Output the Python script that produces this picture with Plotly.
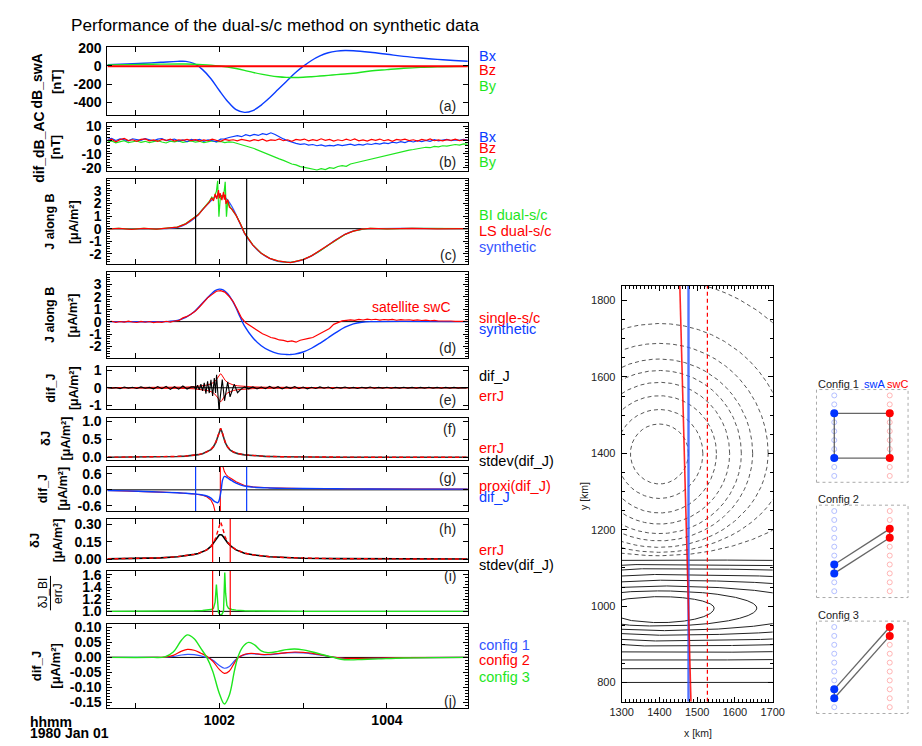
import numpy as np
import plotly.graph_objects as go

W, H = 922, 746
def fx(p): return p / W
def fy(p): return 1 - p / H

FONT = "Liberation Sans, Arial, sans-serif"
BLUE = "#0a3cff"
RED = "#ff0000"
GREEN = "#1ee61e"

# ---------------- data ----------------
# (a) dB_swA [nT]
t_a = [0.665, 0.9, 1.1, 1.3, 1.5, 1.6, 1.7, 1.8, 1.9, 2.0, 2.1, 2.2, 2.3, 2.4, 2.5, 2.6, 2.7,
       2.8, 2.9, 3.0, 3.1, 3.2, 3.3, 3.4, 3.5, 3.6, 3.8, 4.0, 4.2, 4.4, 4.6, 4.8, 4.965]
a_bx = [15, 22, 30, 40, 50, 50, 25, -40, -140, -270, -390, -480, -510, -490, -430, -350, -260,
        -170, -80, -5, 60, 110, 145, 163, 170, 167, 150, 128, 105, 87, 72, 60, 52]
a_by = [12, 15, 18, 20, 21, 21, 19, 15, 9, 0, -12, -28, -48, -70, -90, -106, -118,
        -125, -127, -124, -118, -111, -103, -95, -88, -80, -55, -40, -26, -16, -10, -6, -4]
t_bz = [0.665, 4.965]
a_bz = [-3, -3]

# common sampling grid of the noisy series
t_grid = np.round(np.linspace(0.665, 4.965, 87), 3)

# (b) dif_dB_AC [nT]
b_bx = [0.5, 1.2, -0.3, 0.8, 0.2, -0.6, 0.9, 0.4, -0.2, 1.0,
        0.3, -0.5, 0.6, 1.1, -0.4, 0.2, 0.7, -0.8, 0.1, -1.2,
        0.4, -0.3, 0.5, -0.9, 0.2, -0.5, -1.3, 0.6, 0.9, 1.8,
        2.5, 3.2, 2.4, 3.8, 3.0, 4.1, 3.3, 4.6, 3.9, 5.2,
        4.0, 2.2, 0.8, -0.5, -1.6, -2.4, -3.1, -2.7, -3.6, -3.2,
        -4.1, -3.5, -4.4, -3.8, -4.2, -3.3, -4.0, -3.6, -2.9, -3.8,
        -3.1, -3.6, -2.7, -3.2, -2.4, -2.9, -2.0, -2.5, -1.6, -2.1,
        -1.2, -1.8, -0.7, -1.4, -0.5, -1.1, -0.3, -0.9, 0.2, -0.6,
        -0.2, 0.4, -0.5, 0.1, -0.3, 0.5, -0.1]
b_bz = [-0.5, 0.6, -1.2, 0.3, 1.1, -0.4, 0.2, -0.9, 0.5, 0.8,
        -0.6, 0.1, -1.0, 0.4, -0.3, 0.7, -0.8, 0.2, -0.2, 0.5,
        -0.4, 0.3, -0.7, 0.1, -0.5, 0.6, -0.2, -0.9, 0.4, -0.3,
        0.2, -0.6, 0.5, -0.1, -0.8, 0.3, -0.4, 0.6, -0.7, 0.1,
        -0.3, 0.8, -0.5, 0.2, -0.9, 0.4, -0.1, 0.7, -0.6, 0.3,
        -0.4, 0.9, -0.2, 0.5, -0.7, 0.2, -0.5, 0.6, -0.3, 0.8,
        -0.6, 0.1, -0.8, 0.4, -0.2, 0.7, -0.5, 0.3, -0.9, 0.5,
        -0.1, 0.6, -0.4, 0.2, -0.7, 0.4, -0.3, 0.8, -0.5, 0.1,
        -0.6, 0.3, -0.2, 0.7, -0.4, 0.2, -0.3]
b_by = [-1.5, -0.6, -2.0, -1.1, -0.4, -1.8, -1.2, -0.7, -1.6, -0.9,
        -1.9, -1.0, -0.5, -1.4, -2.1, -0.8, -1.3, -0.6, -1.7, -1.1,
        -0.7, -1.5, -0.9, -1.8, -1.2, -0.6, -1.4, -1.0, -1.9, -1.3,
        -1.6, -2.4, -3.3, -3.9, -5.2, -6.1, -7.4, -8.3, -9.6, -10.8,
        -12.1, -13.5, -14.6, -15.9, -17.2, -17.8, -19.1, -19.6, -20.4, -20.9,
        -21.5, -20.6, -21.2, -19.8, -20.3, -19.0, -18.4, -18.9, -17.2, -16.5,
        -15.8, -15.0, -14.2, -13.6, -12.5, -12.0, -11.2, -10.4, -10.0, -9.1,
        -8.6, -7.9, -7.2, -6.8, -6.1, -5.9, -5.2, -5.5, -4.6, -4.9,
        -4.1, -4.4, -3.7, -3.2, -3.6, -2.8, -3.0]

# (c) J along B
t_syn = [0.665, 1.3, 1.4, 1.5, 1.6, 1.7, 1.8, 1.9, 1.95, 2.0, 2.05, 2.1, 2.15, 2.2, 2.25, 2.3, 2.4,
         2.5, 2.6, 2.7, 2.8, 2.85, 2.9, 3.0, 3.1, 3.2, 3.3, 3.4, 3.5, 3.6, 3.7, 3.8, 4.965]
j_syn = [0, 0, 0.02, 0.1, 0.35, 0.8, 1.5, 2.2, 2.5, 2.62, 2.55, 2.25, 1.75, 1.1, 0.35, -0.35, -1.3,
         -1.95, -2.35, -2.58, -2.65, -2.66, -2.62, -2.45, -2.15, -1.75, -1.3, -0.85, -0.45, -0.18, -0.05, 0, 0]
t_ls = [0.665, 0.8, 0.95, 1.1, 1.25, 1.4, 1.5, 1.6, 1.7, 1.75, 1.8, 1.85, 1.88, 1.91, 1.93, 1.95, 1.97,
        1.99, 2.0, 2.01, 2.03, 2.05, 2.06, 2.07, 2.08, 2.1, 2.12, 2.15, 2.2, 2.25, 2.3, 2.4, 2.5, 2.6,
        2.7, 2.8, 2.85, 2.9, 3.0, 3.1, 3.2, 3.3, 3.4, 3.5, 3.6, 3.7, 3.8, 4.0, 4.3, 4.6, 4.965]
j_ls = [-0.03, 0.02, -0.05, 0.03, -0.04, 0.05, 0.12, 0.38, 0.82, 1.1, 1.5, 1.85, 2.1, 2.45, 2.2, 2.75, 2.35,
        3.05, 2.4, 2.8, 2.25, 2.9, 2.3, 2.7, 1.95, 2.3, 1.7, 1.55, 1.05, 0.4, -0.35, -1.3, -1.95, -2.35,
        -2.55, -2.65, -2.68, -2.6, -2.45, -2.15, -1.75, -1.3, -0.85, -0.45, -0.2, -0.04, 0.03, -0.02, 0.03, -0.02, 0.01]
t_bi = [0.665, 0.8, 0.95, 1.1, 1.25, 1.4, 1.5, 1.6, 1.7, 1.75, 1.8, 1.85, 1.88, 1.91, 1.93, 1.95, 1.965,
        1.98, 1.995, 2.01, 2.03, 2.05, 2.07, 2.085, 2.1, 2.12, 2.15, 2.2, 2.25, 2.3, 2.4, 2.5, 2.6, 2.7,
        2.8, 2.85, 2.9, 3.0, 3.1, 3.2, 3.3, 3.4, 3.5, 3.6, 3.7, 3.8, 4.0, 4.3, 4.6, 4.965]
j_bi = [-0.02, 0.03, -0.04, 0.02, -0.03, 0.06, 0.13, 0.4, 0.85, 1.12, 1.52, 1.88, 2.15, 2.5, 2.3, 2.7, 2.95,
        3.78, 0.95, 2.3, 2.6, 2.5, 3.7, 0.95, 2.2, 1.8, 1.55, 1.05, 0.42, -0.33, -1.28, -1.94, -2.34, -2.56,
        -2.64, -2.67, -2.61, -2.44, -2.14, -1.76, -1.31, -0.86, -0.46, -0.19, -0.05, 0.02, -0.01, 0.02, -0.01, 0.0]

# (d) single-s/c (on t_grid)
j_single = [-0.02, 0.03, -0.06, 0.01, -0.04, 0.04, -0.03, -0.07, 0.02, -0.05,
            0.01, -0.08, -0.02, -0.06, 0.03, -0.04, 0.05, 0.08, 0.3, 0.42,
            0.62, 0.85, 1.2, 1.55, 1.95, 2.2, 2.45, 2.5, 2.38, 2.05,
            1.62, 0.98, 0.3, -0.1, -0.32, -0.55, -0.8, -0.98, -1.12, -1.28,
            -1.35, -1.48, -1.52, -1.62, -1.55, -1.66, -1.5, -1.45, -1.35, -1.28,
            -1.1, -0.95, -0.78, -0.55, -0.22, -0.05, 0.06, 0.1, 0.14, 0.1,
            0.18, 0.13, 0.2, 0.15, 0.19, 0.12, 0.17, 0.14, 0.18, 0.11,
            0.16, 0.13, 0.15, 0.1, 0.14, 0.09, 0.12, 0.07, 0.1, 0.05,
            0.07, 0.04, 0.05, 0.02, 0.03, 0.01, 0.02]

# (e) dif_J
t_e = list(np.round(np.arange(0.665, 1.666, 0.05), 3)) + \
      [1.70, 1.72, 1.74, 1.76, 1.78, 1.80, 1.82, 1.84, 1.86, 1.88, 1.90, 1.92, 1.94, 1.955, 1.967,
       1.995, 2.035, 2.062, 2.10, 2.128, 2.178, 2.217, 2.256, 2.30] + \
      list(np.round(np.arange(2.35, 4.951, 0.05), 3))
dif_j = [0.02, -0.03, 0.01, -0.05, 0.04, -0.02, 0.03, -0.04, 0.05, -0.03, 0.02, -0.06, 0.07, -0.05,
         0.08, -0.09, 0.06, -0.08, 0.1, -0.07, 0.05,
         0.05, -0.1, 0.15, -0.12, 0.2, -0.18, 0.28, -0.33, 0.37, -0.3, 0.45, -0.46, 0.55, -0.3, 0.74,
         -1.2, 0.46, -0.74, 0.33, -0.52, 0.2, -0.28, -0.09, 0.05,
         -0.06, 0.05, -0.07, 0.04, -0.05, 0.08, -0.04, 0.06, -0.07, 0.05,
         -0.03, 0.07, -0.05, 0.04, -0.06, 0.03, -0.04, 0.05, -0.03, 0.04,
         -0.05, 0.03, -0.02, 0.04, -0.03, 0.02, -0.04, 0.03, -0.02, 0.04,
         -0.03, 0.02, -0.02, 0.03, -0.03, 0.02, -0.02, 0.03, -0.02, 0.02,
         -0.03, 0.02, -0.02, 0.03, -0.02, 0.02, -0.03, 0.02, -0.02, 0.02,
         -0.02, 0.01, -0.01]

# (e)/(f) errJ and stdev(dif_J)
t_err = [0.665, 1.0, 1.3, 1.5, 1.6, 1.7, 1.75, 1.8, 1.85, 1.9, 1.93, 1.96, 1.98, 2.0, 2.015, 2.03, 2.05,
         2.07, 2.1, 2.13, 2.17, 2.22, 2.3, 2.4, 2.55, 2.75, 3.0, 3.4, 4.0, 4.965]
err_j = [0.005, 0.009, 0.016, 0.028, 0.038, 0.06, 0.078, 0.105, 0.15, 0.22, 0.3, 0.43, 0.57, 0.72, 0.8,
         0.72, 0.56, 0.42, 0.29, 0.21, 0.15, 0.11, 0.072, 0.048, 0.03, 0.018, 0.011, 0.007, 0.004, 0.003]
std_j = [0.004, 0.008, 0.015, 0.027, 0.037, 0.058, 0.076, 0.103, 0.148, 0.215, 0.295, 0.42, 0.56, 0.71,
         0.79, 0.71, 0.55, 0.41, 0.28, 0.2, 0.145, 0.105, 0.07, 0.046, 0.029, 0.017, 0.01, 0.006, 0.004, 0.003]

# (g) dif_J and proxi(dif_J)
t_g = [0.665, 0.9, 1.1, 1.3, 1.5, 1.6, 1.7, 1.8, 1.85, 1.9, 1.93, 1.96, 1.98, 1.995, 2.005, 2.02, 2.04,
       2.06, 2.08, 2.1, 2.15, 2.2, 2.3, 2.4, 2.6, 2.8, 3.0, 3.4, 3.8, 4.3, 4.965]
g_dif = [-0.025, -0.04, -0.06, -0.085, -0.11, -0.13, -0.15, -0.19, -0.23, -0.31, -0.4, -0.46, -0.48,
         -0.42, -0.3, -0.05, 0.38, 0.5, 0.48, 0.44, 0.34, 0.25, 0.14, 0.1, 0.07, 0.055, 0.05, 0.04,
         0.033, 0.028, 0.025]
t_px = [0.665, 0.9, 1.1, 1.3, 1.5, 1.6, 1.7, 1.8, 1.85, 1.9, 1.93, 1.96, 1.98, 1.995, 2.005, 2.011,
        2.013, 2.02, 2.04, 2.06, 2.08, 2.1, 2.15, 2.2, 2.3, 2.4, 2.6, 2.8, 3.0, 3.4, 3.8, 4.3, 4.965]
g_proxi = [-0.025, -0.04, -0.06, -0.085, -0.11, -0.13, -0.155, -0.2, -0.26, -0.38, -0.56, -0.95, -1.6,
           -3.0, -6.0, -20, 20, 2.0, 0.9, 0.68, 0.57, 0.5, 0.4, 0.3, 0.16, 0.11, 0.075, 0.058, 0.05,
           0.04, 0.033, 0.028, 0.025]

# (h) deltaJ
t_h = [0.665, 1.0, 1.3, 1.5, 1.6, 1.7, 1.75, 1.8, 1.85, 1.9, 1.93, 1.96, 1.98, 2.0, 2.015, 2.03, 2.05,
       2.07, 2.1, 2.15, 2.2, 2.3, 2.4, 2.6, 2.8, 3.0, 3.4, 4.0, 4.965]
h_std = [0.003, 0.006, 0.012, 0.022, 0.03, 0.042, 0.05, 0.062, 0.08, 0.11, 0.14, 0.175, 0.2, 0.21,
         0.21, 0.208, 0.19, 0.165, 0.14, 0.105, 0.08, 0.052, 0.038, 0.022, 0.014, 0.009, 0.005, 0.003, 0.002]
h_err = [0.003, 0.006, 0.012, 0.022, 0.03, 0.042, 0.05, 0.062, 0.08, 0.11, 0.14, 0.19, 0.24, 0.29,
         0.32, 0.29, 0.23, 0.19, 0.145, 0.107, 0.081, 0.053, 0.038, 0.022, 0.014, 0.009, 0.005, 0.003, 0.002]

# (i) dJ_BI / errJ
t_i = [0.665, 1.2, 1.5, 1.7, 1.8, 1.85, 1.9, 1.93, 1.95, 1.965, 1.975, 1.99, 2.01, 2.03, 2.05, 2.065,
       2.075, 2.09, 2.11, 2.15, 2.2, 2.3, 2.5, 3.0, 4.965]
i_ratio = [1.0, 1.0, 1.005, 1.01, 1.015, 1.02, 1.03, 1.05, 1.15, 1.44, 1.2, 0.98, 0.94, 0.95, 1.0, 1.64,
           1.3, 1.1, 1.05, 1.03, 1.02, 1.01, 1.005, 1.0, 1.0]

# (j) dif_J for the three configurations
t_j = [0.665, 1.2, 1.35, 1.45, 1.55, 1.62, 1.7, 1.78, 1.85, 1.92, 2.0, 2.06, 2.12, 2.18, 2.22, 2.28,
       2.35, 2.42, 2.5, 2.58, 2.7, 2.8, 2.9, 3.0, 3.1, 3.2, 3.3, 3.36, 3.45, 3.55, 3.7, 3.9, 4.2, 4.965]
j_cfg1 = [0, 0, 0, 0.003, 0.008, 0.01, 0.009, 0.005, 0.0, -0.009, -0.027, -0.036, -0.03, -0.012, -0.001,
          0.007, 0.012, 0.012, 0.009, 0.009, 0.012, 0.015, 0.016, 0.015, 0.012, 0.008, 0.004, 0.001,
          -0.002, -0.004, -0.004, -0.003, -0.001, 0]
j_cfg2 = [0, 0, 0.001, 0.007, 0.021, 0.027, 0.024, 0.014, 0.004, -0.012, -0.04, -0.053, -0.045, -0.018,
          -0.002, 0.008, 0.013, 0.013, 0.01, 0.01, 0.013, 0.016, 0.018, 0.017, 0.014, 0.009, 0.004,
          0.001, -0.002, -0.003, -0.003, -0.002, -0.001, 0]
j_cfg3 = [0, 0, 0.002, 0.018, 0.058, 0.075, 0.062, 0.03, 0.0, -0.045, -0.12, -0.155, -0.125, -0.045,
          0.0, 0.035, 0.05, 0.042, 0.022, 0.016, 0.02, 0.026, 0.028, 0.025, 0.019, 0.012, 0.004, 0.0,
          -0.006, -0.008, -0.007, -0.005, -0.002, 0]

# interval markers
win_black = [1.717, 2.326]
win_red = [1.92, 2.13]

# contour map (km)
dash_center = (1400, 1400)
dash_r_top = [77, 115, 151, 186, 217, 247, 288, 340, 455]
dash_r_bot = [80, 118, 156, 185, 210, 229, 246, 259, 268]
solid_center = (1400, 995)
solid_halfwidth = [145, 258, 420, 650, 900, 1300, 1800, 2500, 3500, 6000]
solid_top = [1025, 1040, 1053, 1068, 1083, 1098, 1109, 1121, None, None]
solid_bottom = [957, 948, 936, 924, 909, 896, 879, 859, 836, 800]
track_y = [750, 1838]
track_swA_x = [1477, 1477]
track_swC_x = [1454, 1483.5]
track_swC2_x = [1527, 1527]

# configurations (slot index 1..10)
cfg_slots = list(range(1, 11))
cfg_swA = [[3, 8], [7, 8], [8, 9]]
cfg_swC = [[3, 8], [3, 4], [1, 2]]

# ---------------- figure ----------------
fig = go.Figure()
lay = {}

def axn(n, kind):
    return kind if n == 1 else f"{kind}{n}"

X_RANGE = [0.665, 4.965]
panels = [
    (1, 40, 109, [-540, 205], [-400, -200, 0, 200], ["-400", "-200", "0", "200"], None),
    (2, 117.5, 166, [-22.3, 11.9], [-20, -10, 0, 10], ["-20", "-10", "0", "10"], 2),
    (3, 174, 261, [-2.83, 3.93], [-2, -1, 0, 1, 2, 3], ["-2", "-1", "0", "1", "2", "3"], 0.2),
    (4, 269, 356, [-2.92, 3.98], [-2, -1, 0, 1, 2, 3], ["-2", "-1", "0", "1", "2", "3"], 0.2),
    (5, 365, 408, [-1.2, 1.2], [-1, 0, 1], ["-1", "0", "1"], None),
    (6, 417, 460, [-0.07, 1.09], [0, 0.5, 1.0], ["0.0", "0.5", "1.0"], None),
    (7, 467, 512, [-0.79, 0.854], [-0.6, 0, 0.6], ["-0.6", "0.0", "0.6"], None),
    (8, 520, 564, [-0.025, 0.345], [0, 0.15, 0.30], ["0.00", "0.15", "0.30"], None),
    (9, 573, 618, [0.936, 1.665], [1.0, 1.2, 1.4, 1.6], ["1.0", "1.2", "1.4", "1.6"], 0.05),
    (10, 627, 712, [-0.167, 0.111], [-0.15, -0.10, -0.05, 0, 0.05, 0.10],
     ["-0.15", "-0.10", "-0.05", "0.00", "0.05", "0.10"], 0.01),
]
TICKFONT = dict(family=FONT, size=14, color="black", weight="bold")
for n, top, bot, yr, tv, tt, minor in panels:
    xa = dict(domain=[fx(98), fx(468)], range=X_RANGE, anchor=axn(n, "y"),
              showline=True, linecolor="black", linewidth=1, mirror="ticks",
              ticks="inside", ticklen=5, tickcolor="black", tickvals=[1, 2, 3, 4],
              showgrid=False, zeroline=False, fixedrange=True)
    if n == 10:
        xa.update(ticktext=["", "1002", "", "1004"], tickfont=TICKFONT, showticklabels=True)
    else:
        xa.update(showticklabels=False)
    ya = dict(domain=[fy(bot), fy(top)], range=yr, anchor=axn(n, "x"),
              showline=True, linecolor="black", linewidth=1, mirror="ticks",
              ticks="inside", ticklen=5, tickcolor="black", tickvals=tv, ticktext=tt,
              tickfont=TICKFONT, showgrid=False, zeroline=False, fixedrange=True,
              ticklabelstandoff=2)
    if minor:
        ya["minor"] = dict(tickmode="linear", tick0=0, dtick=minor, ticks="inside",
                           ticklen=3, tickcolor="black", showgrid=False)
    lay[axn(n, "xaxis")] = xa
    lay[axn(n, "yaxis")] = ya

def line(n, x, y, color, width=1.3, dash=None, shape="linear"):
    fig.add_trace(go.Scatter(x=x, y=y, mode="lines",
                             line=dict(color=color, width=width, dash=dash, shape=shape),
                             xaxis=axn(n, "x"), yaxis=axn(n, "y"), hoverinfo="skip"))

# (a)
line(1, t_a, a_bx, BLUE, 1.4, shape="spline")
line(1, t_a, a_by, GREEN, 1.4, shape="spline")
line(1, t_bz, a_bz, RED, 2.0)
# (b)
line(2, t_grid, b_by, GREEN, 1.2)
line(2, t_grid, b_bx, BLUE, 1.2)
line(2, t_grid, b_bz, RED, 1.2)
# (c)
line(3, t_syn, j_syn, "#3355ff", 1.3, shape="spline")
line(3, t_bi, j_bi, GREEN, 1.2)
line(3, t_ls, j_ls, RED, 1.2)
# (d)
line(4, t_syn, j_syn, BLUE, 1.4, shape="spline")
line(4, t_grid, j_single, RED, 1.2)
# (e)
line(5, t_err, err_j, RED, 1.0)
line(5, t_err, [-v for v in err_j], RED, 1.0)
line(5, t_e, dif_j, "black", 1.1)
# (f)
line(6, t_err, std_j, "#333333", 1.6)
line(6, t_err, err_j, RED, 1.4, dash="4px,3px")
# (g)
line(7, t_px, g_proxi, RED, 1.1)
line(7, t_g, g_dif, BLUE, 1.4, shape="spline")
# (h)
line(8, t_h, h_std, "black", 1.6)
line(8, t_h, h_err, RED, 1.4, dash="4px,3px")
# (i)
line(9, t_i, i_ratio, GREEN, 1.4)
# (j)
line(10, t_j, j_cfg1, "#3355ff", 1.2, shape="spline")
line(10, t_j, j_cfg2, RED, 1.2, shape="spline")
line(10, t_j, j_cfg3, GREEN, 1.4, shape="spline")

shapes = []
def hline(n, yv):
    shapes.append(dict(type="line", xref=f"{axn(n,'x')} domain", x0=0, x1=1,
                       yref=axn(n, "y"), y0=yv, y1=yv, line=dict(color="black", width=1), layer="below"))
def vline(n, xv, color):
    shapes.append(dict(type="line", xref=axn(n, "x"), x0=xv, x1=xv,
                       yref=f"{axn(n,'y')} domain", y0=0, y1=1, line=dict(color=color, width=1.2)))
for n in (3, 4, 5, 7, 10):
    hline(n, 0)
hline(9, 1.0)
for xv in win_black:
    vline(3, xv, "black"); vline(5, xv, "black"); vline(6, xv, "black")
    vline(7, xv, BLUE)
for xv in win_red:
    vline(8, xv, RED); vline(9, xv, RED)

# ---------------- contour map ----------------
lay["xaxis11"] = dict(domain=[fx(626), fx(781)], range=[1300, 1700], anchor="y11",
                      showline=True, linecolor="black", linewidth=1, mirror="ticks",
                      ticks="inside", ticklen=5, tickcolor="black", dtick=100, tick0=1300,
                      minor=dict(dtick=10, ticks="inside", ticklen=3, tickcolor="black"),
                      tickfont=dict(family=FONT, size=11, color="#222"),
                      showgrid=False, zeroline=False, fixedrange=True)
lay["yaxis11"] = dict(domain=[fy(706), fy(283)], range=[750, 1838], anchor="x11",
                      showline=True, linecolor="black", linewidth=1, mirror="ticks",
                      ticks="inside", ticklen=5, tickcolor="black", dtick=200, tick0=800,
                      minor=dict(dtick=50, ticks="inside", ticklen=3, tickcolor="black"),
                      tickfont=dict(family=FONT, size=11, color="#222"),
                      showgrid=False, zeroline=False, fixedrange=True, ticklabelstandoff=3)

theta = np.linspace(0, np.pi, 2001)
cx, cy = dash_center
for rt, rb in zip(dash_r_top, dash_r_bot):
    xs = np.concatenate([cx + rt * np.cos(theta), cx + rt * np.cos(theta[::-1])])
    ys = np.concatenate([cy + rt * np.sin(theta), cy - rb * np.sin(theta[::-1])])
    fig.add_trace(go.Scatter(x=xs, y=ys, mode="lines", xaxis="x11", yaxis="y11", hoverinfo="skip",
                             line=dict(color="#444", width=0.9, dash="4px,3px")))
sx, sy = solid_center
for a, tp, bt in zip(solid_halfwidth, solid_top, solid_bottom):
    xs = sx + a * np.cos(theta)
    if tp is not None:
        fig.add_trace(go.Scatter(x=xs, y=sy + (tp - sy) * np.sin(theta), mode="lines",
                                 xaxis="x11", yaxis="y11", hoverinfo="skip",
                                 line=dict(color="#222", width=1)))
    fig.add_trace(go.Scatter(x=xs, y=sy - (sy - bt) * np.sin(theta), mode="lines",
                             xaxis="x11", yaxis="y11", hoverinfo="skip",
                             line=dict(color="#222", width=1)))
fig.add_trace(go.Scatter(x=track_swA_x, y=track_y, mode="lines", xaxis="x11", yaxis="y11",
                         line=dict(color="rgba(50,90,255,0.85)", width=2.4), hoverinfo="skip"))
fig.add_trace(go.Scatter(x=track_swC_x, y=track_y[::-1], mode="lines", xaxis="x11", yaxis="y11",
                         line=dict(color="rgba(255,0,0,0.85)", width=1.6), hoverinfo="skip"))
fig.add_trace(go.Scatter(x=track_swC2_x, y=track_y, mode="lines", xaxis="x11", yaxis="y11",
                         line=dict(color=RED, width=1.2, dash="4px,3px"), hoverinfo="skip"))

# ---------------- configurations ----------------
cfg_boxes = [(388.3, 482.7), (506, 600), (624, 718)]
LIGHT_B = "#b4bfff"
LIGHT_R = "#ffb4b4"
for i, (top, bot) in enumerate(cfg_boxes):
    n = 12 + i
    lay[f"xaxis{n}"] = dict(domain=[fx(826), fx(920)], range=[-0.32, 1.33], anchor=f"y{n}",
                            visible=False, fixedrange=True)
    lay[f"yaxis{n}"] = dict(domain=[fy(bot), fy(top)], range=[10.71, 0.34], anchor=f"x{n}",
                            visible=False, fixedrange=True)
    shapes.append(dict(type="rect", xref=f"x{n} domain", yref=f"y{n} domain", x0=0, x1=1, y0=0, y1=1,
                       line=dict(color="#aaa", width=1, dash="dot")))
    fig.add_trace(go.Scatter(x=[0] * len(cfg_slots), y=cfg_slots, mode="markers", xaxis=f"x{n}",
                             yaxis=f"y{n}", hoverinfo="skip",
                             marker=dict(symbol="circle-open", size=5, color=LIGHT_B, line=dict(width=1))))
    fig.add_trace(go.Scatter(x=[1] * len(cfg_slots), y=cfg_slots, mode="markers", xaxis=f"x{n}",
                             yaxis=f"y{n}", hoverinfo="skip",
                             marker=dict(symbol="circle-open", size=5, color=LIGHT_R, line=dict(width=1))))
    A, C = cfg_swA[i], cfg_swC[i]
    for k in range(2):
        fig.add_trace(go.Scatter(x=[0, 1], y=[A[k], C[k]], mode="lines", xaxis=f"x{n}", yaxis=f"y{n}",
                                 line=dict(color="#666", width=1.3), hoverinfo="skip"))
    fig.add_trace(go.Scatter(x=[0, 0], y=A, mode="lines", xaxis=f"x{n}", yaxis=f"y{n}",
                             line=dict(color="#555", width=1.2), hoverinfo="skip"))
    fig.add_trace(go.Scatter(x=[1, 1], y=C, mode="lines", xaxis=f"x{n}", yaxis=f"y{n}",
                             line=dict(color="#555", width=1.2), hoverinfo="skip"))
    fig.add_trace(go.Scatter(x=[0, 0], y=A, mode="markers", xaxis=f"x{n}", yaxis=f"y{n}",
                             marker=dict(size=8, color="#0033ff"), hoverinfo="skip"))
    fig.add_trace(go.Scatter(x=[1, 1], y=C, mode="markers", xaxis=f"x{n}", yaxis=f"y{n}",
                             marker=dict(size=8, color="#ff0000"), hoverinfo="skip"))

# ---------------- annotations ----------------
anns = []
def ann(x, y, text, size=14.5, color="black", xanchor="left", yanchor="middle", angle=0, weight="normal"):
    anns.append(dict(x=fx(x), y=fy(y), xref="paper", yref="paper", text=text, showarrow=False,
                     xanchor=xanchor, yanchor=yanchor, textangle=angle,
                     font=dict(family=FONT, size=size, color=color, weight=weight)))

ann(59, 17.5, "Performance of the dual-s/c method on synthetic data", size=17.2)

# left axis titles: (centre y, line1, x1, size1, line2, x2, size2)
UNIT = "[μA/m²]"
left_titles = [
    (74.5, "dB_swA", 26, 14, "[nT]", 45, 13),
    (141, "dif_dB_AC", 27, 14, "[nT]", 45, 13),
    (217.5, "J along B", 39, 12.5, UNIT, 63, 12.5),
    (312.5, "J along B", 39, 12.5, UNIT, 63, 12.5),
    (386.5, "dif_J", 40, 12.5, UNIT, 63, 12.5),
    (438.5, "δJ", 35, 13, UNIT, 55, 12.5),
    (489.5, "dif_J", 32, 12.5, UNIT, 52, 12.5),
    (542, "δJ", 23, 13, UNIT, 47, 12.5),
    (669.5, "dif_J", 25, 13, UNIT, 45, 13),
]
for yc, t1, x1, s1, t2, x2, s2 in left_titles:
    ann(x1, yc, t1, size=s1, xanchor="center", angle=-90, weight="bold")
    ann(x2, yc, t2, size=s2, xanchor="center", angle=-90, weight="bold")
ann(32, 595.5, "δJ_BI", size=12, xanchor="center", angle=-90)
ann(47, 595.5, "errJ", size=12, xanchor="center", angle=-90)
shapes.append(dict(type="line", xref="paper", yref="paper", x0=fx(39.5), x1=fx(39.5),
                   y0=fy(578), y1=fy(613), line=dict(color="black", width=1)))

# right legends
R = 477
right_labels = [
    (48.5, "Bx", BLUE), (63.5, "Bz", RED), (79, "By", GREEN),
    (131, "Bx", BLUE), (142.5, "Bz", RED), (156.5, "By", GREEN),
    (210.5, "BI dual-s/c", GREEN), (226.5, "LS dual-s/c", RED), (243.5, "synthetic", "#3355ff"),
    (315, "single-s/c", RED), (326.5, "synthetic", BLUE),
    (375, "dif_J", "black"), (394.5, "errJ", RED),
    (447.5, "errJ", RED), (461.5, "stdev(dif_J)", "black"),
    (486, "proxi(dif_J)", RED), (497.5, "dif_J", BLUE),
    (551.5, "errJ", RED), (567, "stdev(dif_J)", "black"),
    (648.5, "config 1", "#3355ff"), (663.5, "config 2", RED), (680.5, "config 3", GREEN),
]
for yv, txt, col in right_labels:
    ann(R, yv, txt, size=14.5, color=col)

# panel letters
letters = [(100, "(a)"), (156.5, "(b)"), (251, "(c)"), (346.5, "(d)"), (398.5, "(e)"),
           (428.5, "(f)"), (478.5, "(g)"), (530, "(h)"), (578.5, "(i)"), (705.5, "(j)")]
for yv, txt in letters:
    ann(458, yv, txt, size=14, color="#222", xanchor="right")

ann(410, 304, "satellite swC", size=14, color=RED, xanchor="center")

ann(16, 726.5, "hhmm", size=14, xanchor="left", weight="bold")
ann(16, 738, "1980 Jan 01", size=14, xanchor="left", weight="bold")

# contour axis titles
ann(588, 497, "y [km]", size=10.5, color="#222", xanchor="center", angle=-90)
ann(704, 738, "x [km]", size=10.5, color="#222", xanchor="center")

# config titles
for (top, bot), name in zip(cfg_boxes, ["Config 1", "Config 2", "Config 3"]):
    ann(826, top - 6, name, size=11, color="#222", xanchor="left")
ann(885.5, 382.3, "swA", size=11, color="#0033ff", xanchor="center")
ann(909.5, 382.3, "swC", size=11, color=RED, xanchor="center")

fig.update_layout(width=W, height=H, margin=dict(l=0, r=0, t=0, b=0), autosize=False,
                  paper_bgcolor="white", plot_bgcolor="white", showlegend=False,
                  shapes=shapes, annotations=anns, font=dict(family=FONT), **lay)
fig.write_html("out.html")
